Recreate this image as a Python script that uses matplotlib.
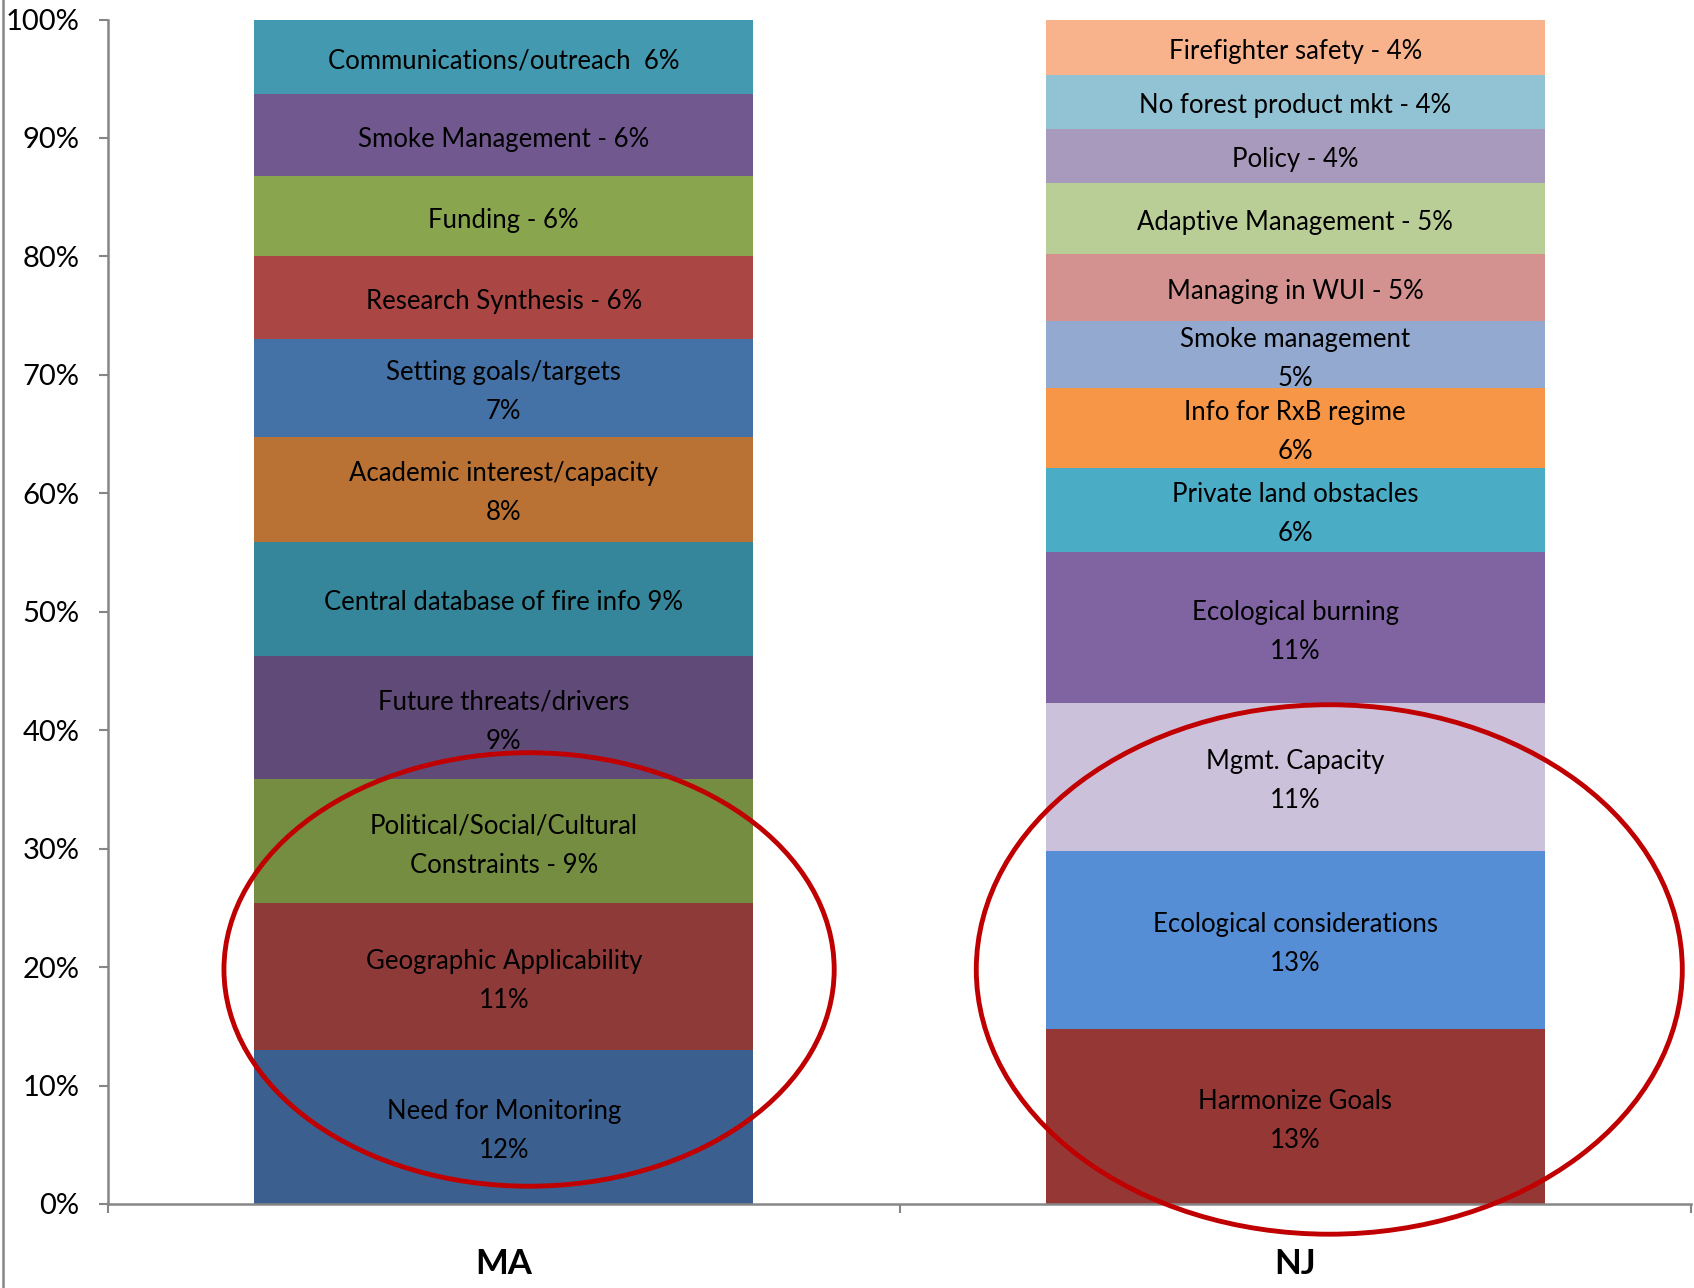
import matplotlib
matplotlib.use("Agg")
import matplotlib.pyplot as plt
from matplotlib.patches import Ellipse
from matplotlib.lines import Line2D
from matplotlib import font_manager

avail = {f.name for f in font_manager.fontManager.ttflist}
fam = [f for f in ["Liberation Sans Narrow", "Lato", "Open Sans", "DejaVu Sans"] if f in avail]
plt.rcParams['font.family'] = fam

# ---------------- data ----------------
categories = ["MA", "NJ"]

ma_values = [12.96, 12.41, 10.49, 10.40, 9.67, 8.85, 8.21, 7.03, 6.75, 6.93, 6.30]
ma_labels = ["Need for Monitoring\n12%", "Geographic Applicability\n11%",
             "Political/Social/Cultural\nConstraints - 9%", "Future threats/drivers\n9%",
             "Central database of fire info 9%", "Academic interest/capacity\n8%",
             "Setting goals/targets\n7%", "Research Synthesis - 6%", "Funding - 6%",
             "Smoke Management - 6%", "Communications/outreach  6%"]
ma_colors = ["#3B5F8E", "#8E3A38", "#748D41", "#5F4A78", "#35869A", "#B97234",
             "#4472A7", "#AA4644", "#89A54E", "#71588F", "#4299B0"]

nj_values = [14.78, 15.05, 12.50, 12.68, 7.12, 6.75, 5.66, 5.66, 6.02, 4.56, 4.56, 4.65]
nj_labels = ["Harmonize Goals\n13%", "Ecological considerations\n13%", "Mgmt. Capacity\n11%",
             "Ecological burning\n11%", "Private land obstacles\n6%", "Info for RxB regime\n6%",
             "Smoke management\n5%", "Managing in WUI - 5%", "Adaptive Management - 5%",
             "Policy - 4%", "No forest product mkt - 4%", "Firefighter safety - 4%"]
nj_colors = ["#943735", "#558ED5", "#CCC1DA", "#8064A2", "#4BACC6", "#F79646",
             "#93A9CF", "#D39190", "#B9CD96", "#A89ABC", "#92C3D4", "#F8B38C"]

y_ticks = [0, 10, 20, 30, 40, 50, 60, 70, 80, 90, 100]

# ---------------- figure ----------------
W, H = 1694, 1288
fig = plt.figure(figsize=(W / 100, H / 100), dpi=100)
ax = fig.add_axes([108 / W, 1 - 1204 / H, (1691 - 108) / W, (1204 - 19.5) / H])

bar_w = 0.63
gray = "#868686"

for xi, vals, labs, cols in [(0, ma_values, ma_labels, ma_colors),
                             (1, nj_values, nj_labels, nj_colors)]:
    bottom = 0.0
    for v, lab, c in zip(vals, labs, cols):
        ax.bar(xi, v, bottom=bottom, width=bar_w, color=c, edgecolor="none")
        ax.annotate(lab, (xi, bottom + v / 2), xytext=(0, -3), textcoords="offset points",
                    ha="center", va="center", fontsize=18.5, color="black",
                    linespacing=1.7)
        bottom += v

ax.set_xlim(-0.5, 1.5)
ax.set_ylim(0, 100)

ax.set_yticks(y_ticks)
ax.set_yticklabels([f"{t}%" for t in y_ticks], fontsize=21)
ax.tick_params(axis="y", direction="out", length=6.5, width=1.5, color=gray, pad=14)

ax.set_xticks([0, 1])
ax.set_xticklabels(categories, fontsize=25, fontweight="bold")
ax.tick_params(axis="x", which="major", length=0, pad=32)
ax.set_xticks([-0.5, 0.5, 1.5], minor=True)
ax.tick_params(axis="x", which="minor", direction="out", length=6.5, width=1.5, color=gray)

for s in ["top", "right"]:
    ax.spines[s].set_visible(False)
for s in ["left", "bottom"]:
    ax.spines[s].set_color(gray)
    ax.spines[s].set_linewidth(1.8)

# red ellipses
ax.add_patch(Ellipse((0.032, 19.8), 0.771, 36.6, fill=False, edgecolor="#C00000",
                     linewidth=3.5, clip_on=False, zorder=5))
ax.add_patch(Ellipse((1.043, 19.8), 0.892, 44.7, fill=False, edgecolor="#C00000",
                     linewidth=3.5, clip_on=False, zorder=5))

# left chart-area border
fig.add_artist(Line2D([3 / W, 3 / W], [0, 1], color=gray, linewidth=1.8))

fig.savefig("out.png", dpi=100)
